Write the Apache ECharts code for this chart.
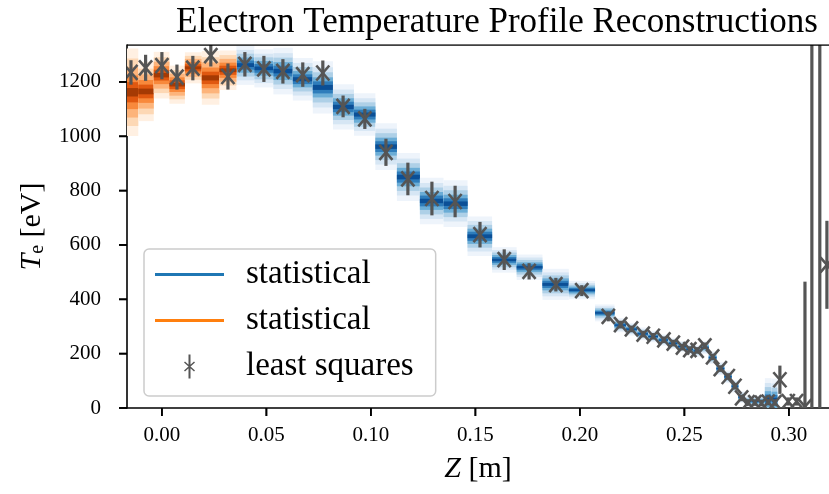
<!DOCTYPE html>
<html>
<head>
<meta charset="utf-8">
<script src="https://cdn.jsdelivr.net/npm/echarts@6/dist/echarts.min.js"></script>
<style>
html, body { margin: 0; padding: 0; background: #fff; }
#chart { width: 829px; height: 494px; }
</style>
</head>
<body>
<div id="chart"></div>
<script>
var chart = echarts.init(document.getElementById('chart'));

// channel positions along Z [m]
var zPos = [
    -0.0148, -0.0078, 0.0000, 0.0072, 0.0148, 0.0234, 0.0316,
    0.0397, 0.0488, 0.0579, 0.0674, 0.0770, 0.0867, 0.0971, 0.1072, 0.1177, 0.1292,
    0.1403, 0.1522, 0.1638, 0.1757, 0.1885, 0.2009, 0.2136,
    0.2195, 0.2247, 0.2303, 0.2351, 0.2402, 0.2447, 0.2491, 0.2526, 0.2561, 0.2598,
    0.2635, 0.2672, 0.2710, 0.2742, 0.2774, 0.2805, 0.2837, 0.2869, 0.2901, 0.2933,
    0.2957, 0.2997, 0.3037, 0.3077, 0.3110, 0.3148, 0.3182
];
// statistical reconstruction: centre and spread of the samples (null = not drawn)
var statMean = [
    1162, 1165, 1225, 1190, 1252, 1215, 1243,
    1262, 1250, 1240, 1210, 1180, 1108, 1080, 962, 850, 762,
    752, 632, 545, 518, 455, 434, 350,
    305, 290, 273, 263, 250, 238, 226, 216, 210, 222,
    185, 145, 115, 80, 40, 25, 24, 25, 32, 30,
    null, null, null, null, null, null, null
];
var statSpread = [
    62, 42, 33, 27, 22, 38, 28,
    28, 27, 33, 30, 37, 32, 30, 33, 34, 33,
    33, 28, 18, 18, 22, 13, 12,
    10, 9, 9, 8, 8, 8, 8, 8, 8, 9,
    9, 9, 9, 9, 8, 8, 8, 8, 30, 30,
    null, null, null, null, null, null, null
];
// 1 = orange statistical run, 0 = blue statistical run
var statGroup = [
    1, 1, 1, 1, 1, 1, 1,
    0, 0, 0, 0, 0, 0, 0, 0, 0, 0,
    0, 0, 0, 0, 0, 0, 0,
    0, 0, 0, 0, 0, 0, 0, 0, 0, 0,
    0, 0, 0, 0, 0, 0, 0, 0, 0, 0,
    0, 0, 0, 0, 0, 0, 0
];
// least squares fit
var lsqValue = [
    1235, 1252, 1260, 1218, 1251, 1297, 1220,
    1265, 1248, 1239, 1227, 1233, 1110, 1064, 941, 843, 771,
    760, 638, 546, 503, 454, 432, 337,
    307, 291, 272, 264, 251, 239, 224, 215, 212, 229,
    188, 145, 116, 80, 37, 20, 20, 18, 22, 20,
    104, 24, 24, 5, -1500, -1500, 527
];
var lsqError = [
    45, 48, 50, 46, 45, 40, 48,
    45, 48, 45, 45, 46, 40, 37, 50, 60, 62,
    58, 47, 38, 30, 25, 20, 18,
    14, 12, 12, 12, 12, 12, 12, 12, 12, 12,
    12, 12, 12, 12, 12, 12, 12, 12, 12, 12,
    52, 15, 15, 460, 3000, 3000, 162
];

var xTicks = [0, 0.05, 0.10, 0.15, 0.20, 0.25, 0.30];
var yTicks = [0, 200, 400, 600, 800, 1000, 1200];

var X_MIN = -0.0167, X_MAX = 0.3192, Y_MIN = 0, Y_MAX = 1336;
var FONT = 'Liberation Serif';
var GREY = '#555555';
var TICK = 8;
// shading levels: multiples of the spread, from outside (light) to centre (dark)
var levels = [2.6, 2.0, 1.5, 1.0, 0.6, 0.25];
var blues = ['#eef4fb', '#d6e6f4', '#aed0e7', '#6badd6', '#2f7dbb', '#0b4f96'];
var oranges = ['#fff0e2', '#fdd8b5', '#fdb47b', '#f8893c', '#e05810', '#a53a04'];

function edges(i) {
    var n = zPos.length;
    var l = i > 0 ? (zPos[i - 1] + zPos[i]) / 2 : zPos[i] - (zPos[i + 1] - zPos[i]) / 2;
    var r = i < n - 1 ? (zPos[i] + zPos[i + 1]) / 2 : zPos[i] + (zPos[i] - zPos[i - 1]) / 2;
    return [l, r];
}

function bandData(g) {
    var out = [];
    for (var i = 0; i < zPos.length; i++) {
        if (statGroup[i] === g && statMean[i] != null) out.push([zPos[i], statMean[i], i]);
    }
    return out;
}

function makeBand(palette) {
    return function (params, api) {
        var i = api.value(2);
        var e = edges(i), m = statMean[i], s = statSpread[i];
        var kids = [];
        for (var k = 0; k < levels.length; k++) {
            var a = api.coord([e[0], m + levels[k] * s]);
            var b = api.coord([e[1], m - levels[k] * s]);
            kids.push({
                type: 'rect',
                shape: { x: a[0], y: a[1], width: b[0] - a[0], height: b[1] - a[1] },
                style: { fill: palette[k] }
            });
        }
        return { type: 'group', children: kids };
    };
}

var lsqData = [];
for (var i = 0; i < zPos.length; i++) lsqData.push([zPos[i], lsqValue[i], lsqError[i]]);

function lsqItem(params, api) {
    var z = api.value(0), v = api.value(1), err = api.value(2);
    var top = api.coord([z, v + err]);
    var bot = api.coord([z, v - err]);
    var c = api.coord([z, v]);
    var w = 3.2, rx = 6.5, ry = 7.5;
    return {
        type: 'group',
        children: [
            { type: 'rect', shape: { x: top[0] - w / 2, y: top[1], width: w, height: bot[1] - top[1] }, style: { fill: GREY } },
            { type: 'line', shape: { x1: c[0] - rx, y1: c[1] - ry, x2: c[0] + rx, y2: c[1] + ry }, style: { stroke: GREY, lineWidth: 2.6 } },
            { type: 'line', shape: { x1: c[0] - rx, y1: c[1] + ry, x2: c[0] + rx, y2: c[1] - ry }, style: { stroke: GREY, lineWidth: 2.6 } }
        ]
    };
}

// outward tick marks at the tick values
var tickData = [];
xTicks.forEach(function (v) { tickData.push([v, Y_MIN, 0]); });
yTicks.forEach(function (v) { tickData.push([X_MIN, v, 1]); });

function tickItem(params, api) {
    var p = api.coord([api.value(0), api.value(1)]);
    var shape = api.value(2) === 0
        ? { x1: p[0], y1: p[1], x2: p[0], y2: p[1] + TICK }
        : { x1: p[0] - TICK, y1: p[1], x2: p[0], y2: p[1] };
    return { type: 'line', shape: shape, style: { stroke: '#000', lineWidth: 1.7 } };
}

var option = {
    animation: false,
    title: {
        text: 'Electron Temperature Profile Reconstructions',
        left: 492,
        textAlign: 'center',
        top: 0,
        textStyle: { fontFamily: FONT, fontSize: 35, fontWeight: 'normal', color: '#000' }
    },
    grid: { left: 127, right: 0, top: 45, bottom: 86 },
    legend: {
        orient: 'vertical',
        left: 144,
        top: 249,
        padding: [9, 22, 13, 11],
        itemWidth: 69,
        itemHeight: 24,
        itemGap: 13,
        backgroundColor: 'rgba(255,255,255,0.85)',
        borderColor: '#cccccc',
        borderWidth: 1.5,
        borderRadius: 5,
        textStyle: { fontFamily: FONT, fontSize: 33, color: '#000', padding: [0, 0, 0, 17] },
        formatter: function (name) { return name === 'least squares' ? name : 'statistical'; },
        data: [
            { name: 'stat_blue', icon: 'path://M0,0H69V3H0Z', itemStyle: { color: '#1f77b4' } },
            { name: 'stat_orange', icon: 'path://M0,0H69V3H0Z', itemStyle: { color: '#ff7f0e' } },
            { name: 'least squares', icon: 'path://M9.5,0H11.5V24H9.5Z M5,8L6,7L16,16L15,17Z M15,7L16,8L6,17L5,16Z', itemStyle: { color: GREY } }
        ]
    },
    xAxis: {
        type: 'value',
        min: X_MIN,
        max: X_MAX,
        name: '{i|Z} [m]',
        nameLocation: 'middle',
        nameGap: 46,
        nameTextStyle: {
            fontFamily: FONT, fontSize: 30, color: '#000',
            rich: { i: { fontFamily: FONT, fontSize: 30, fontStyle: 'italic', color: '#000' } }
        },
        axisLine: { show: true, onZero: false, lineStyle: { color: '#000', width: 1.6 } },
        splitLine: { show: false },
        axisTick: { show: false },
        axisLabel: {
            customValues: xTicks,
            margin: 17,
            fontFamily: FONT, fontSize: 21, color: '#000',
            formatter: function (v) { return v.toFixed(2); }
        }
    },
    yAxis: {
        type: 'value',
        min: Y_MIN,
        max: Y_MAX,
        name: '{i|T}{s|e} [eV]',
        nameLocation: 'middle',
        nameGap: 66,
        nameRotate: 90,
        nameTextStyle: {
            fontFamily: FONT, fontSize: 30, color: '#000',
            rich: {
                i: { fontFamily: FONT, fontSize: 30, fontStyle: 'italic', color: '#000' },
                s: { fontFamily: FONT, fontSize: 20, color: '#000', padding: [12, 0, 0, 0] }
            }
        },
        axisLine: { show: true, onZero: false, lineStyle: { color: '#000', width: 1.6 } },
        splitLine: { show: false },
        axisTick: { show: false },
        axisLabel: {
            customValues: yTicks,
            margin: 26,
            fontFamily: FONT, fontSize: 21, color: '#000',
            formatter: function (v) { return String(v); }
        }
    },
    series: [
        {
            name: 'ticks',
            type: 'custom',
            clip: false,
            silent: true,
            z: 10,
            renderItem: tickItem,
            data: tickData
        },
        {
            name: 'stat_blue',
            type: 'custom',
            clip: true,
            z: 2,
            itemStyle: { color: '#1f77b4' },
            renderItem: makeBand(blues),
            data: bandData(0)
        },
        {
            name: 'stat_orange',
            type: 'custom',
            clip: true,
            z: 2,
            itemStyle: { color: '#ff7f0e' },
            renderItem: makeBand(oranges),
            data: bandData(1)
        },
        {
            name: 'least squares',
            type: 'custom',
            clip: true,
            z: 5,
            itemStyle: { color: GREY },
            renderItem: lsqItem,
            data: lsqData
        },
        {
            // top spine along the upper edge of the value range
            name: 'top spine',
            type: 'line',
            silent: true,
            symbol: 'none',
            z: 10,
            lineStyle: { color: '#000', width: 1.6 },
            data: [[X_MIN, Y_MAX], [X_MAX, Y_MAX]]
        }
    ]
};
chart.setOption(option);

// same tick marks again as graphic lines, placed with the chart's own axis conversion
var tickEls = [];
xTicks.forEach(function (v) {
    var p = chart.convertToPixel({ gridIndex: 0 }, [v, Y_MIN]);
    tickEls.push({ type: 'line', z: 100, silent: true, shape: { x1: p[0], y1: p[1], x2: p[0], y2: p[1] + TICK }, style: { stroke: '#000', lineWidth: 1.7 } });
});
yTicks.forEach(function (v) {
    var p = chart.convertToPixel({ gridIndex: 0 }, [X_MIN, v]);
    tickEls.push({ type: 'line', z: 100, silent: true, shape: { x1: p[0] - TICK, y1: p[1], x2: p[0], y2: p[1] }, style: { stroke: '#000', lineWidth: 1.7 } });
});
chart.setOption({ graphic: tickEls });
</script>
</body>
</html>
